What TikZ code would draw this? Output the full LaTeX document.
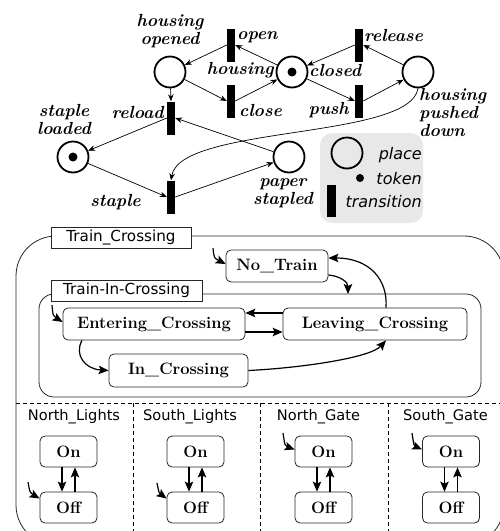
\documentclass[tikz,border=0pt]{standalone}
\usepackage{fontspec}
\newfontfamily\sansf{DejaVu Sans}
\usetikzlibrary{arrows.meta}
\begin{document}
\begin{tikzpicture}[x=1pt,y=-1pt,
  place/.style={circle,draw,line width=1.8pt,minimum size=31pt,inner sep=0pt},
  trans/.style={rectangle,fill=black,minimum width=8pt,minimum height=33pt,inner sep=0pt},
  plabel/.style={font=\fontsize{17.5}{18}\selectfont\bfseries\itshape,inner sep=0pt},
  parc/.style={-{Stealth[length=7pt,width=5.5pt]},line width=0.7pt},
  leglabel/.style={font=\sansf\fontsize{16}{17}\selectfont\itshape,inner sep=0pt},
  state/.style={draw=black!85,rounded corners=5pt,line width=0.8pt,fill=white,inner sep=0pt,
    font=\fontsize{16.5}{17}\selectfont\bfseries},
  cont/.style={draw=black!85,line width=0.8pt,fill=white,inner sep=0pt,font=\sansf\fontsize{15.2}{16}\selectfont},
  rlabel/.style={font=\sansf\fontsize{14.6}{15}\selectfont,inner sep=0pt},
  sarr/.style={-{Stealth[length=10pt,width=8.5pt,inset=2pt]},line width=1.2pt},
  sepline/.style={dashed,line width=0.8pt,dash pattern=on 4pt off 3pt}
]
\useasboundingbox (0,0) rectangle (500,531);
% ---------------- Petri net ----------------
\node[place] (ho) at (170,72) {};
\node[place] (hc) at (292,72) {};
\node[place] (hp) at (418,72) {};
\node[place] (sl) at (73,157) {};
\node[place] (ps) at (289,157) {};
\fill (hc.center) circle (4.5);
\fill (sl.center) circle (4.5);
\node[trans] (open) at (231,45) {};
\node[trans] (close) at (231,101) {};
\node[trans] (release) at (359,45) {};
\node[trans] (push) at (359,101) {};
\node[trans] (reload) at (171,118) {};
\node[trans] (staple) at (171,197) {};
\draw[parc] (open.west) -- (ho);
\draw[parc] (hc) -- (open.east);
\draw[parc] (ho) -- (close.west);
\draw[parc] (close.east) -- (hc);
\draw[parc] (release.west) -- (hc);
\draw[parc] (hp) -- (release.east);
\draw[parc] (hc) -- (push.west);
\draw[parc] (push.east) -- (hp);
\draw[parc] (ho) -- (reload.north);
\draw[parc] (ps) -- (reload.east);
\draw[parc] (reload.west) -- (sl);
\draw[parc] (sl) -- (staple.west);
\draw[parc] (staple.east) -- (ps);
\draw[parc] (hp.south) .. controls (410,140) and (180,125) .. (staple.north);
\node[plabel,align=center] (lho) at (170,31) {housing\\opened};
\node[plabel,anchor=west] (lopen) at (237,37) {open};
\node[plabel,anchor=east] (lhc1) at (274,70) {housing};
\node[plabel,anchor=west] (lhc2) at (309,70) {closed};
\node[plabel,anchor=west] (lclose) at (239,110) {close};
\node[plabel,anchor=west] (lrel) at (364,35) {release};
\node[plabel,anchor=east] (lpush) at (349,110) {push};
\node[plabel,align=left,anchor=north west] (lhp) at (419,88) {housing\\pushed\\down};
\node[plabel,anchor=east] (lrel2) at (164,112) {reload};
\node[plabel,align=center] (lsl) at (64,119) {staple\\loaded};
\node[plabel,anchor=east] (lst) at (141,202) {staple};
\node[plabel,align=center] (lps) at (283,193) {paper\\stapled};
% legend
\node[fill=black!9,rounded corners=12pt,minimum width=103pt,minimum height=90pt,inner sep=0pt] (leg) at (371.5,178) {};
\node[place] (legp) at (347,153) {};
\fill (360,178) circle (4);
\node[trans,minimum width=9pt,minimum height=32pt] (legt) at (331,201) {};
\node[leglabel,anchor=east] (lplace) at (422,155) {place};
\node[leglabel,anchor=east] (ltoken) at (422,179) {token};
\node[leglabel,anchor=east] (ltrans) at (422,202) {transition};
% ---------------- Statechart ----------------
\begin{scope}
\clip (0,0) rectangle (500,531);
\draw[draw=black!85,line width=0.8pt,rounded corners=40pt] (16,236) rectangle (504,545);
\draw[sepline] (16,403) -- (504,403);
\draw[sepline] (133,403) -- (133,535);
\draw[sepline] (260,403) -- (260,535);
\draw[sepline] (388,403) -- (388,535);
\end{scope}
\node[cont,minimum width=140pt,minimum height=21pt] (tc) at (121,237.5) {Train\_Crossing};
\draw[draw=black!85,line width=0.8pt,rounded corners=15pt] (39,294) rectangle (481,397);
\node[cont,minimum width=151pt,minimum height=21pt] (tic) at (126.5,290.5) {Train-In-Crossing};
\coordinate (ticTop) at (348,294);
\node[state,minimum width=102pt,minimum height=32pt] (nt) at (277,266) {No\_Train};
\node[state,minimum width=182pt,minimum height=32pt] (ec) at (154,324) {Entering\_Crossing};
\node[state,minimum width=184pt,minimum height=32pt] (lc) at (375,324) {Leaving\_Crossing};
\node[state,minimum width=139pt,minimum height=33pt] (ic) at (178.5,370.5) {In\_Crossing};
\coordinate (i1) at (213,248);
\coordinate (i2) at (52,305);
\draw[sarr] (i1) .. controls (214,258) .. ([yshift=2pt]nt.west);
\draw[sarr] (i2) .. controls (53,316) .. ([yshift=2pt]ec.west);
\draw[sarr] ([yshift=11pt]lc.west) -- ([yshift=11pt]ec.east);
\draw[sarr] ([yshift=-8pt]ec.east) -- ([yshift=-8pt]lc.west);
\draw[sarr] ([xshift=-72pt]ec.south) .. controls (74,355) and (85,369) .. (ic.west);
\draw[sarr] (ic.east) .. controls (300,368) and (370,358) .. ([xshift=11pt]lc.south);
\draw[sarr] ([xshift=11pt]lc.north) .. controls (388,280) and (370,258) .. ([yshift=8pt]nt.east);
\draw[sarr] ([yshift=-9pt]nt.east) .. controls (340,276) and (348,282) .. (ticTop);
% regions
\node[rlabel] (rnl) at (74,417) {North\_Lights};
\node[rlabel] (rsl) at (190,417) {South\_Lights};
\node[rlabel] (rng) at (318.5,417) {North\_Gate};
\node[rlabel] (rsg) at (445.5,417) {South\_Gate};
\foreach \n/\x in {nl/68.5,sl/195.5,ng/323.5,sg/451}{
  \node[state,minimum width=57pt,minimum height=31pt] (\n on) at (\x,451.5) {On};
  \node[state,minimum width=57pt,minimum height=31pt] (\n off) at (\x,507.5) {Off};
  \draw[sarr] ([xshift=-6.5pt]\n on.south) -- ([xshift=-6.5pt]\n off.north);
  \draw[sarr] ([xshift=6.5pt]\n off.north) -- ([xshift=6.5pt]\n on.south);
}
\coordinate (i3) at (28,482);
\coordinate (i4) at (157,483);
\coordinate (i5) at (283,433);
\coordinate (i6) at (412,433);
\draw[sarr] (i3) .. controls (30,493) .. ([yshift=9pt]nloff.west);
\draw[sarr] (i4) .. controls (159,493) .. ([yshift=9pt]sloff.west);
\draw[sarr] (i5) .. controls (285,446) .. ([yshift=2pt]ngon.west);
\draw[sarr] (i6) .. controls (414,446) .. ([yshift=2pt]sgon.west);
\end{tikzpicture}
\end{document}
